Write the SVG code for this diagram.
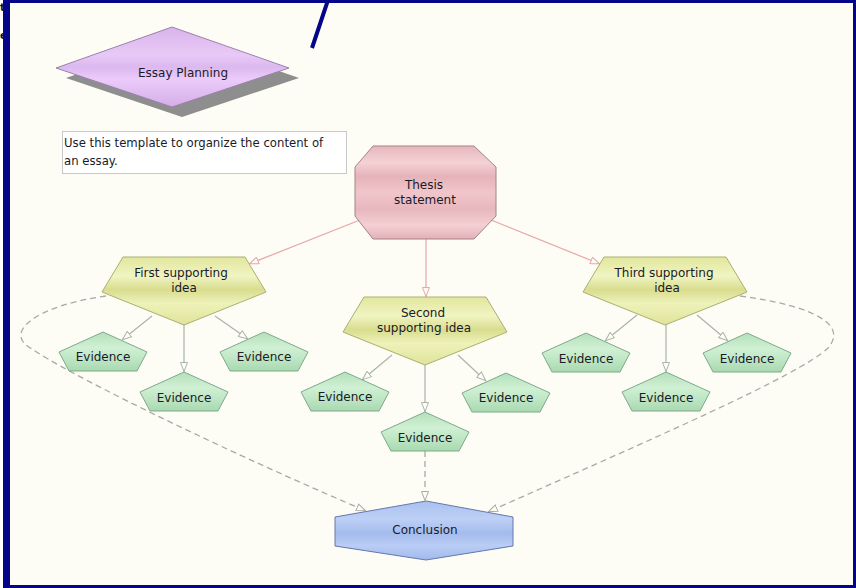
<svg xmlns="http://www.w3.org/2000/svg" xmlns:xlink="http://www.w3.org/1999/xlink" width="856" height="588" viewBox="0 0 856 588">
<style>
text{font-family:"DejaVu Sans","Liberation Sans",sans-serif;font-size:12px;fill:#1a1a28;text-anchor:middle}
.frag{font-size:10px;font-weight:bold;fill:#111;text-anchor:start}
.desc{font-size:11.7px;text-anchor:start}
.ev{fill:url(#gGreen);stroke:#7fa98a;stroke-width:1}
.idea{fill:url(#gYellow);stroke:#a9b071;stroke-width:1}
.pink{fill:none;stroke:#e8a6a6;stroke-width:1.2}
.gray{fill:none;stroke:#aab4aa;stroke-width:1.2}
.dash{fill:none;stroke:#a8aaa4;stroke-width:1.3;stroke-dasharray:6 4}
</style>
<defs>
<linearGradient id="gLav" x1="0" y1="0" x2="0" y2="1">
<stop offset="0" stop-color="#d8b4ea"/><stop offset="0.35" stop-color="#e9c9f8"/><stop offset="0.5" stop-color="#dbb8ee"/><stop offset="0.65" stop-color="#eccbfb"/><stop offset="1" stop-color="#d4aee7"/>
</linearGradient>
<linearGradient id="gPink" x1="0" y1="0" x2="0" y2="1">
<stop offset="0" stop-color="#e6b6bb"/><stop offset="0.18" stop-color="#f4d2d5"/><stop offset="0.33" stop-color="#e5b3b9"/><stop offset="0.5" stop-color="#f1c6ca"/><stop offset="0.68" stop-color="#e7b7bd"/><stop offset="0.85" stop-color="#f4d0d3"/><stop offset="1" stop-color="#e3b1b7"/>
</linearGradient>
<linearGradient id="gYellow" x1="0" y1="0" x2="0" y2="1">
<stop offset="0" stop-color="#e2e69d"/><stop offset="0.28" stop-color="#f0f4c2"/><stop offset="0.48" stop-color="#d8dd8e"/><stop offset="0.68" stop-color="#eef2b9"/><stop offset="1" stop-color="#dfe39a"/>
</linearGradient>
<linearGradient id="gGreen" x1="0" y1="0" x2="0" y2="1">
<stop offset="0" stop-color="#b2e0ba"/><stop offset="0.4" stop-color="#d0f0d4"/><stop offset="0.7" stop-color="#bde6c3"/><stop offset="1" stop-color="#a8d8b0"/>
</linearGradient>
<linearGradient id="gBlue" x1="0" y1="0" x2="0" y2="1">
<stop offset="0" stop-color="#a9c0ee"/><stop offset="0.3" stop-color="#bdd0f6"/><stop offset="0.55" stop-color="#a4bbec"/><stop offset="0.75" stop-color="#b9cdf5"/><stop offset="1" stop-color="#a2b9ea"/>
</linearGradient>
<polygon id="evShape" points="0,-20 44,0 34,19 -34,19 -44,0"/>
<marker id="mPink" viewBox="0 0 10 8" refX="10" refY="4" markerWidth="10" markerHeight="8" markerUnits="userSpaceOnUse" orient="auto">
<path d="M0.5,0.5 L9.5,4 L0.5,7.5 z" fill="#fdfdf4" stroke="#e8a6a6" stroke-width="1"/>
</marker>
<marker id="mGray" viewBox="0 0 10 8" refX="10" refY="4" markerWidth="10" markerHeight="8" markerUnits="userSpaceOnUse" orient="auto">
<path d="M0.5,0.5 L9.5,4 L0.5,7.5 z" fill="#fdfdf4" stroke="#aab4aa" stroke-width="1"/>
</marker>
<marker id="mDash" viewBox="0 0 10 8" refX="10" refY="4" markerWidth="10" markerHeight="8" markerUnits="userSpaceOnUse" orient="auto">
<path d="M0.5,0.5 L9.5,4 L0.5,7.5 z" fill="#fdfdf4" stroke="#a8aaa4" stroke-width="1"/>
</marker>
</defs>
<rect x="0" y="0" width="856" height="588" fill="#ffffff"/>
<text class="frag" x="0" y="11">t</text>
<text class="frag" x="0" y="39">e</text>
<rect x="3" y="0" width="853" height="588" fill="#05058a"/>
<rect x="10" y="3" width="843" height="582" fill="#fdfdf5"/>
<line x1="328" y1="0" x2="312" y2="48" stroke="#05058a" stroke-width="4"/>

<g id="title">
<polygon points="66,78 182,37 299,78 182,117" fill="#8e8e8e"/>
<polygon points="56,68 172,27 289,68 172,107" fill="url(#gLav)" stroke="#9c80ad" stroke-width="1"/>
<text x="183" y="77">Essay Planning</text>
</g>

<g id="description">
<rect x="62.5" y="131.5" width="284" height="42" fill="#ffffff" stroke="#c8c8c8" stroke-width="1"/>
<text class="desc" x="64" y="147">Use this template to organize the content of</text>
<text class="desc" x="64" y="165">an essay.</text>
</g>

<g id="connectors">
<path class="pink" d="M360,220 L249,264" marker-end="url(#mPink)"/>
<path class="pink" d="M426,239 L426,297" marker-end="url(#mPink)"/>
<path class="pink" d="M491,220 L600,264" marker-end="url(#mPink)"/>
<path class="gray" d="M152,316 L122,340" marker-end="url(#mGray)"/>
<path class="gray" d="M184,325 L184,372" marker-end="url(#mGray)"/>
<path class="gray" d="M215,316 L248,339" marker-end="url(#mGray)"/>
<path class="gray" d="M392,355 L362,380" marker-end="url(#mGray)"/>
<path class="gray" d="M458,355 L486,381" marker-end="url(#mGray)"/>
<path class="gray" d="M425,365 L425,412" marker-end="url(#mGray)"/>
<path class="gray" d="M637,315 L605,341" marker-end="url(#mGray)"/>
<path class="gray" d="M666,325 L666,372" marker-end="url(#mGray)"/>
<path class="gray" d="M697,315 L728,341" marker-end="url(#mGray)"/>
<path class="dash" d="M425,451 L425,501" marker-end="url(#mDash)"/>
<path class="dash" d="M106,296 C35,306 2,333 32,349 C62,370 200,440 366,511" marker-end="url(#mDash)"/>
<path class="dash" d="M740,296 C815,306 848,325 828,348 C800,375 650,440 488,512" marker-end="url(#mDash)"/>
</g>

<g id="thesis">
<polygon points="373,146 474,146 496,167 496,216 474,239 373,239 355,216 355,167" fill="url(#gPink)" stroke="#a38486" stroke-width="1"/>
<text x="424" y="189">Thesis</text>
<text x="425" y="204">statement</text>
</g>

<g id="idea1">
<polygon class="idea" points="123,257 245,257 266,292 184,325 102,292"/>
<text x="181" y="277">First supporting</text>
<text x="184" y="292">idea</text>
</g>
<g id="idea2">
<polygon class="idea" points="364,297 486,297 507,332 425,365 343,332"/>
<text x="423" y="317">Second</text>
<text x="424" y="332">supporting idea</text>
</g>
<g id="idea3">
<polygon class="idea" points="604,257 726,257 747,292 665,325 583,292"/>
<text x="664" y="277">Third supporting</text>
<text x="667" y="292">idea</text>
</g>

<g id="ev1" transform="translate(103,352)"><use xlink:href="#evShape" class="ev"/><text y="9">Evidence</text></g>
<g id="ev2" transform="translate(184,392)"><use xlink:href="#evShape" class="ev"/><text y="10">Evidence</text></g>
<g id="ev3" transform="translate(264,352)"><use xlink:href="#evShape" class="ev"/><text y="9">Evidence</text></g>
<g id="ev4" transform="translate(345,392)"><use xlink:href="#evShape" class="ev"/><text y="9">Evidence</text></g>
<g id="ev5" transform="translate(506,393)"><use xlink:href="#evShape" class="ev"/><text y="9">Evidence</text></g>
<g id="ev6" transform="translate(425,432)"><use xlink:href="#evShape" class="ev"/><text y="10">Evidence</text></g>
<g id="ev7" transform="translate(586,353)"><use xlink:href="#evShape" class="ev"/><text y="10">Evidence</text></g>
<g id="ev8" transform="translate(666,392)"><use xlink:href="#evShape" class="ev"/><text y="10">Evidence</text></g>
<g id="ev9" transform="translate(747,353)"><use xlink:href="#evShape" class="ev"/><text y="10">Evidence</text></g>

<g id="conclusion">
<polygon points="426,501 513,517 513,546 426,560 335,546 335,517" fill="url(#gBlue)" stroke="#6676ae" stroke-width="1"/>
<text x="425" y="534">Conclusion</text>
</g>
</svg>
